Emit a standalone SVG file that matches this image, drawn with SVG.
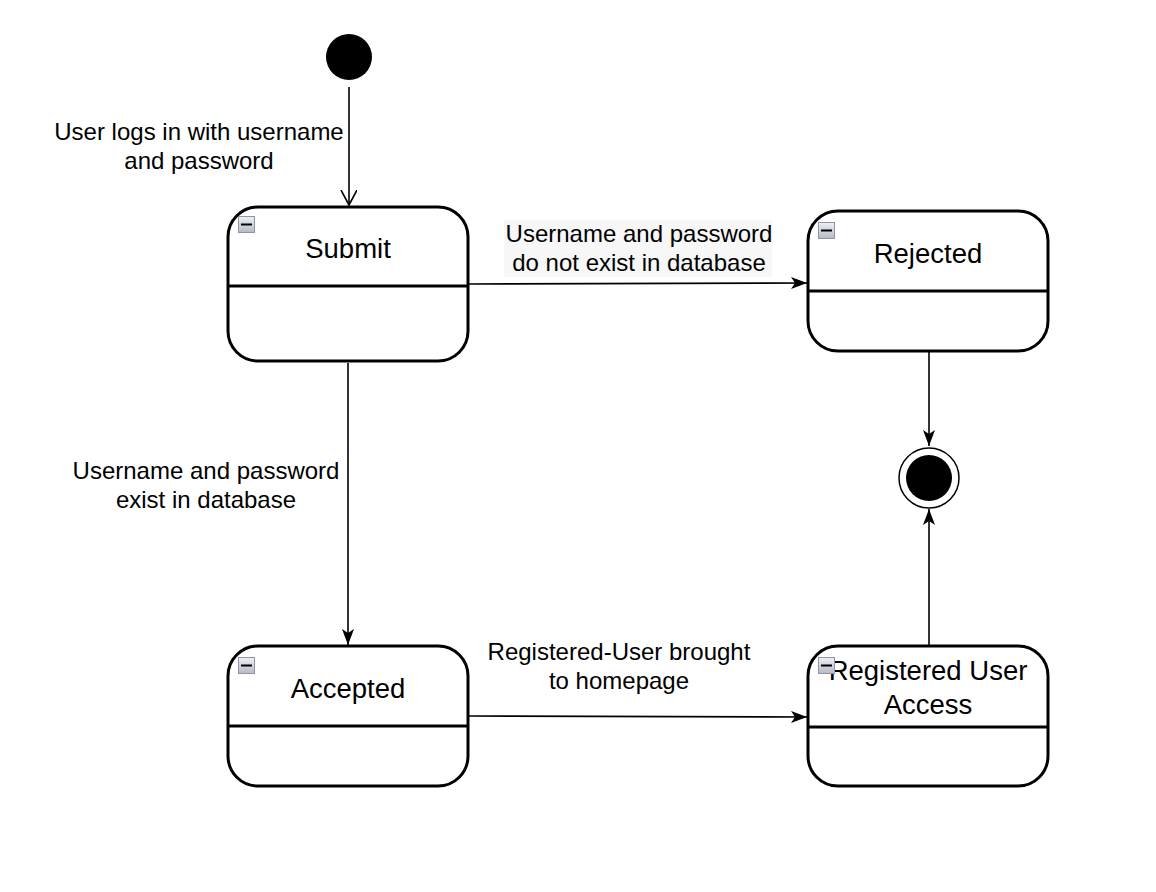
<svg xmlns="http://www.w3.org/2000/svg" width="1156" height="892" viewBox="0 0 1156 892">
<defs>
<style>
.node{fill:#fff;stroke:#000;stroke-width:3}
.div{stroke:#000;stroke-width:3}
.edge{fill:none;stroke:#000;stroke-width:1.6}
.nl{font-family:"Liberation Sans",Arial,sans-serif;font-size:27.5px;fill:#000;text-anchor:middle}
.el{font-family:"Liberation Sans",Arial,sans-serif;font-size:24px;fill:#000;text-anchor:middle}
.ic{fill:url(#g);stroke:#8d95a6;stroke-width:1}
.icd{stroke:#000;stroke-width:2}
</style>
<linearGradient id="g" x1="0" y1="0" x2="0" y2="1">
<stop offset="0" stop-color="#eef0f4"/>
<stop offset="1" stop-color="#b5bac4"/>
</linearGradient>
<marker id="blk" markerUnits="userSpaceOnUse" markerWidth="18" markerHeight="14" refX="16" refY="6" orient="auto">
<path d="M0,0 L16,6 L0,12 L4,6 Z" fill="#000"/>
</marker>
<marker id="open" markerUnits="userSpaceOnUse" markerWidth="20" markerHeight="20" refX="15" refY="8" orient="auto">
<path d="M0,0 L15,8 L0,16" fill="none" stroke="#000" stroke-width="1.6"/>
</marker>
</defs>
<rect width="1156" height="892" fill="#fff"/>
<g id="connectors">
<line class="edge" x1="349" y1="87" x2="349" y2="205" marker-end="url(#open)"/>
<line class="edge" x1="469" y1="284" x2="807" y2="283" marker-end="url(#blk)"/>
<line class="edge" x1="348" y1="363" x2="348" y2="645" marker-end="url(#blk)"/>
<line class="edge" x1="929" y1="352" x2="929" y2="446" marker-end="url(#blk)"/>
<line class="edge" x1="929" y1="645" x2="929" y2="509" marker-end="url(#blk)"/>
<line class="edge" x1="469" y1="716" x2="807" y2="717" marker-end="url(#blk)"/>
<text class="el" x="199" y="140">User logs in with username</text>
<text class="el" x="199" y="169">and password</text>
<rect x="504" y="220" width="268" height="57" fill="#f7f7f7"/>
<text class="el" x="639" y="242">Username and password</text>
<text class="el" x="639" y="271">do not exist in database</text>
<text class="el" x="206" y="479">Username and password</text>
<text class="el" x="206" y="508">exist in database</text>
<text class="el" x="619" y="660">Registered-User brought</text>
<text class="el" x="619" y="689">to homepage</text>
</g>
<g id="initial">
<circle cx="349" cy="57" r="23" fill="#000"/>
</g>
<g id="submit">
<rect class="node" x="228" y="207" width="240" height="154" rx="30" ry="30"/>
<line class="div" x1="228" y1="286" x2="468" y2="286"/>
<text class="nl" x="348" y="258">Submit</text>
<rect class="ic" x="238.5" y="216.5" width="16" height="16"/>
<line class="icd" x1="241" y1="224.5" x2="252" y2="224.5"/>
</g>
<g id="rejected">
<rect class="node" x="808" y="211" width="240" height="140" rx="30" ry="30"/>
<line class="div" x1="808" y1="291" x2="1048" y2="291"/>
<text class="nl" x="928" y="263">Rejected</text>
<rect class="ic" x="818.5" y="222.5" width="16" height="16"/>
<line class="icd" x1="821" y1="230.5" x2="832" y2="230.5"/>
</g>
<g id="accepted">
<rect class="node" x="228" y="646" width="240" height="140" rx="30" ry="30"/>
<line class="div" x1="228" y1="726" x2="468" y2="726"/>
<text class="nl" x="348" y="698">Accepted</text>
<rect class="ic" x="238.5" y="657.5" width="16" height="16"/>
<line class="icd" x1="241" y1="665.5" x2="252" y2="665.5"/>
</g>
<g id="registered">
<rect class="node" x="808" y="646" width="240" height="140" rx="30" ry="30"/>
<line class="div" x1="808" y1="727" x2="1048" y2="727"/>
<text class="nl" x="928" y="680">Registered User</text>
<text class="nl" x="928" y="714">Access</text>
<rect class="ic" x="818.5" y="657.5" width="16" height="16"/>
<line class="icd" x1="821" y1="665.5" x2="832" y2="665.5"/>
</g>
<g id="final">
<circle cx="929" cy="478" r="30" fill="#fff" stroke="#000" stroke-width="1.5"/>
<circle cx="929" cy="478" r="23" fill="#000"/>
</g>
</svg>
